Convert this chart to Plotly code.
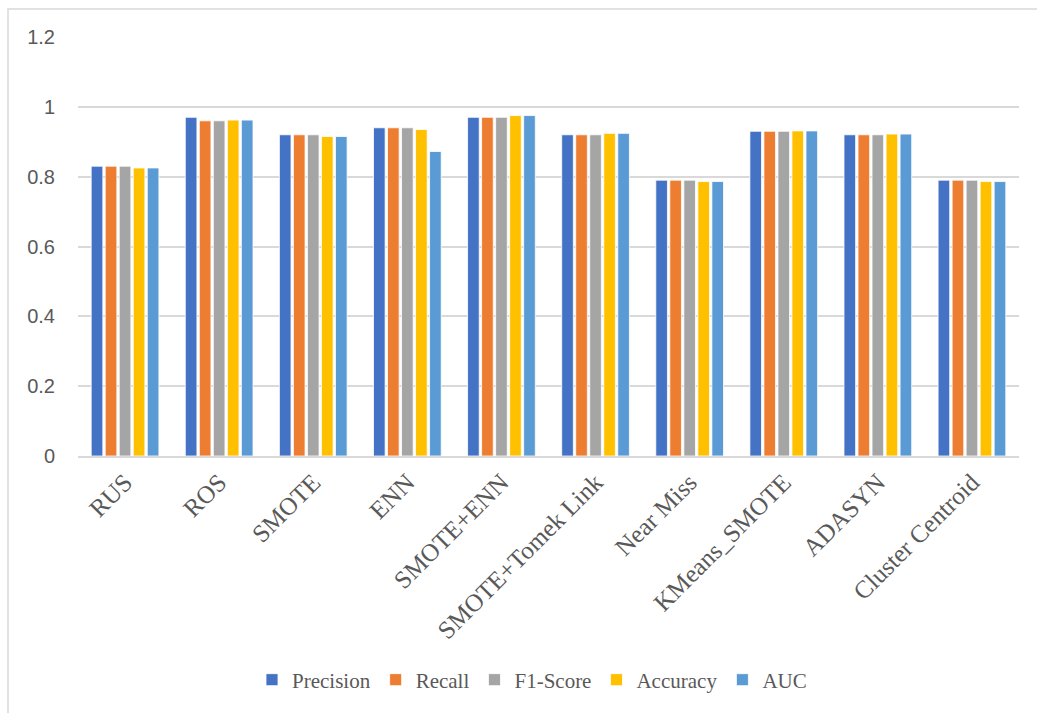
import plotly.graph_objects as go

# Resampling methods compared
methods = ["RUS", "ROS", "SMOTE", "ENN", "SMOTE+ENN", "SMOTE+Tomek Link",
           "Near Miss", "KMeans_SMOTE", "ADASYN", "Cluster Centroid"]

# Metric scores per method
precision = [0.83, 0.97, 0.92, 0.94, 0.97, 0.92, 0.79, 0.93, 0.92, 0.79]
recall    = [0.83, 0.96, 0.92, 0.94, 0.97, 0.92, 0.79, 0.93, 0.92, 0.79]
f1_score  = [0.83, 0.96, 0.92, 0.94, 0.97, 0.92, 0.79, 0.93, 0.92, 0.79]
accuracy  = [0.825, 0.962, 0.915, 0.935, 0.975, 0.924, 0.786, 0.931, 0.922, 0.786]
auc       = [0.825, 0.962, 0.915, 0.872, 0.975, 0.924, 0.786, 0.931, 0.922, 0.786]

series = [
    ("Precision", precision, "#4472C4"),
    ("Recall", recall, "#ED7D31"),
    ("F1-Score", f1_score, "#A5A5A5"),
    ("Accuracy", accuracy, "#FFC000"),
    ("AUC", auc, "#5B9BD5"),
]

fig = go.Figure()
for name, vals, color in series:
    fig.add_trace(go.Bar(
        x=methods, y=vals, name=name,
        marker=dict(color=color, line=dict(color="white", width=0.8)),
    ))

W, H = 1037, 713
L, R, T, B = 78, 18, 37, 257
pw, ph = W - L - R, H - T - B

def px_x(p):
    return (p - L) / pw

def px_y(p):
    return (H - B - p) / ph

fig.update_layout(
    width=W, height=H,
    margin=dict(l=L, r=R, t=T, b=B),
    paper_bgcolor="white", plot_bgcolor="white",
    barmode="group", bargap=0.255, bargroupgap=0.17,
    showlegend=True,
    legend=dict(
        orientation="h", x=px_x(532), xanchor="center",
        y=px_y(680), yanchor="middle",
        font=dict(family="Liberation Serif", size=21, color="#595959"),
        itemwidth=30, tracegroupgap=0,
    ),
    xaxis=dict(
        tickangle=-45,
        tickfont=dict(family="Liberation Serif", size=25, color="#595959"),
        showline=True, linecolor="#D9D9D9", linewidth=1.5,
        showgrid=False, ticks="",
    ),
    yaxis=dict(
        range=[0, 1.2], dtick=0.2,
        tickvals=[0, 0.2, 0.4, 0.6, 0.8, 1.0, 1.2],
        ticktext=["0", "0.2", "0.4", "0.6", "0.8", "1", "1.2"],
        tickfont=dict(family="Liberation Sans", size=20, color="#595959"),
        showgrid=True, gridcolor="#D9D9D9", gridwidth=1.5,
        zeroline=False, showline=False, ticks="",
        ticklabelstandoff=22,
    ),
    shapes=[dict(
        type="rect", xref="paper", yref="paper",
        x0=px_x(8), x1=px_x(1060), y0=px_y(740), y1=px_y(9),
        line=dict(color="#D9D9D9", width=1.5), fillcolor="rgba(0,0,0,0)",
        layer="below",
    )],
)

fig.write_html("out.html")
